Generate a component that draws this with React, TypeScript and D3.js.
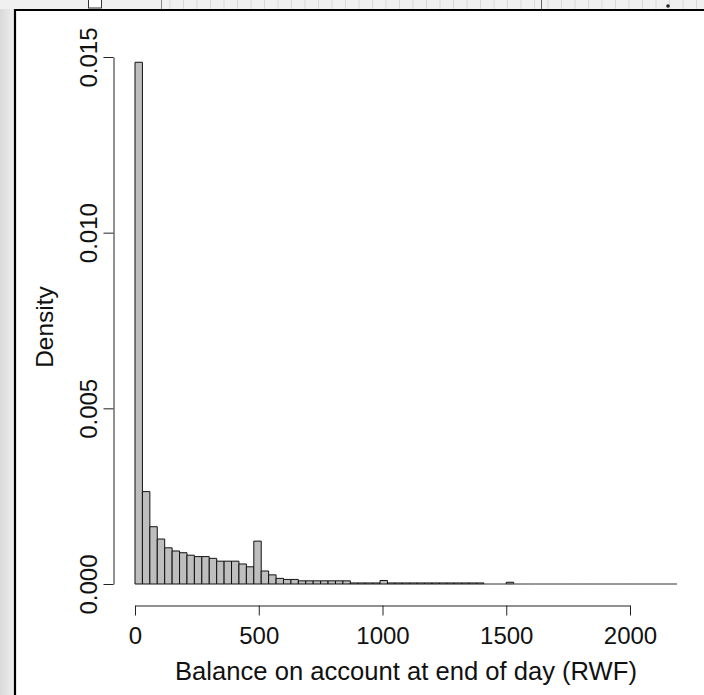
import React, { useEffect, useRef } from 'react';
import * as d3 from 'd3';

// histogram of end-of-day balances, 30 RWF bins from 0 to 2190
const binWidth = 30;
const densities = [
  0.01485, 0.00263, 0.00163, 0.00128, 0.00103, 0.00094, 0.00089, 0.00082,
  0.00078, 0.00078, 0.00073, 0.00065, 0.00065, 0.00065, 0.00057, 0.00049,
  0.00122, 0.00037, 0.00026, 0.00016, 0.00013, 0.00013, 0.00009, 0.00009,
  0.00009, 0.00009, 0.00009, 0.00009, 0.00009, 0.00003, 0.00003, 0.00003,
  0.00003, 0.0001, 0.00003, 0.00003, 0.00003, 0.00003, 0.00003, 0.00003,
  0.00003, 0.00003, 0.00003, 0.00003, 0.00003, 0.00003, 0.00003, 0, 0, 0,
  0.00005, 0, 0, 0, 0, 0, 0, 0, 0, 0, 0, 0, 0, 0, 0, 0, 0, 0, 0, 0, 0, 0, 0,
];
const xTicks = [0, 500, 1000, 1500, 2000];
const yTicks = [0, 0.005, 0.01, 0.015];
const yTickLabels = ['0.000', '0.005', '0.010', '0.015'];
const xTitle = 'Balance on account at end of day (RWF)';
const yTitle = 'Density';

const W = 704;
const H = 695;
const font = '"Liberation Sans", Arial, sans-serif';

const App = () => {
  const svgRef = useRef<SVGSVGElement>(null);

  useEffect(() => {
    const svg = d3.select(svgRef.current);
    svg.selectAll('*').remove();

    // window chrome around the plot
    const defs = svg.append('defs');
    const grad = defs.append('linearGradient').attr('id', 'side').attr('x1', 0).attr('x2', 1);
    grad.append('stop').attr('offset', '0%').attr('stop-color', '#dadada');
    grad.append('stop').attr('offset', '100%').attr('stop-color', '#efefef');
    svg.append('rect').attr('width', W).attr('height', H).attr('fill', '#fff');
    svg.append('rect').attr('width', 15).attr('height', H).attr('fill', 'url(#side)');
    svg.append('rect').attr('width', W).attr('height', 9).attr('fill', '#f0f0f0');
    d3.range(170, 700, 13.5).forEach(x => {
      svg.append('line').attr('x1', x).attr('x2', x).attr('y1', 0).attr('y2', 9)
        .attr('stroke', '#d8d8d8').attr('stroke-width', 1);
    });
    svg.append('rect').attr('x', 88.5).attr('y', -2).attr('width', 13).attr('height', 10)
      .attr('fill', '#fff').attr('stroke', '#333');
    svg.append('line').attr('x1', 161.5).attr('x2', 161.5).attr('y1', 0).attr('y2', 9).attr('stroke', '#888');
    svg.append('line').attr('x1', 541.5).attr('x2', 541.5).attr('y1', 0).attr('y2', 9).attr('stroke', '#666');
    svg.append('circle').attr('cx', 668).attr('cy', 6).attr('r', 1.8).attr('fill', '#222');
    svg.append('path').attr('d', `M15,${H} V10 H${W}`).attr('fill', 'none')
      .attr('stroke', '#000').attr('stroke-width', 2.2);

    const x = d3.scaleLinear().domain([0, 2000]).range([135, 630]);
    const y = d3.scaleLinear().domain([0, 0.015]).range([584, 57]);

    // bars as closed paths so that empty bins still show as a flat line
    svg.append('g')
      .selectAll('path')
      .data(densities)
      .enter().append('path')
      .attr('d', (d, i) => {
        const x0 = x(i * binWidth);
        const x1 = x((i + 1) * binWidth);
        return `M${x0},${y(0)}V${y(d)}H${x1}V${y(0)}Z`;
      })
      .attr('fill', '#bebebe')
      .attr('stroke', d => (d === 0 ? '#777' : '#111'))
      .attr('stroke-width', 1);

    // x-axis
    const gx = svg.append('g')
      .attr('transform', 'translate(0, 605.5)')
      .call(d3.axisBottom(x).tickValues(xTicks).tickSize(10).tickSizeOuter(0).tickFormat(d3.format('d')));
    gx.select('.domain').attr('stroke', '#222');
    gx.selectAll('line').attr('stroke', '#222');
    gx.selectAll('text')
      .attr('y', 38)
      .attr('dy', null)
      .attr('fill', '#111')
      .style('font-family', font)
      .style('font-size', '24px');

    // y-axis
    const gy = svg.append('g')
      .attr('transform', 'translate(113.5, 0)')
      .call(d3.axisLeft(y).tickValues(yTicks).tickSize(10).tickSizeOuter(0)
        .tickFormat((d, i) => yTickLabels[i]));
    gy.select('.domain').attr('stroke', '#222');
    gy.selectAll('line').attr('stroke', '#222');
    gy.selectAll('text')
      .attr('transform', 'rotate(-90)')
      .attr('x', 0)
      .attr('y', -17)
      .attr('dy', null)
      .attr('fill', '#111')
      .style('text-anchor', 'middle')
      .style('font-family', font)
      .style('font-size', '24px');

    // axis titles
    svg.append('text')
      .attr('x', 406)
      .attr('y', 680)
      .attr('text-anchor', 'middle')
      .attr('fill', '#111')
      .style('font-family', font)
      .style('font-size', '25.6px')
      .text(xTitle);

    svg.append('text')
      .attr('transform', 'rotate(-90)')
      .attr('x', -327)
      .attr('y', 53)
      .attr('text-anchor', 'middle')
      .attr('fill', '#111')
      .style('font-family', font)
      .style('font-size', '24.5px')
      .text(yTitle);
  }, []);

  return (
    <svg ref={svgRef} width={W} height={H}
      style={{ position: 'absolute', left: 0, top: 0, display: 'block' }} />
  );
};

export default App;
